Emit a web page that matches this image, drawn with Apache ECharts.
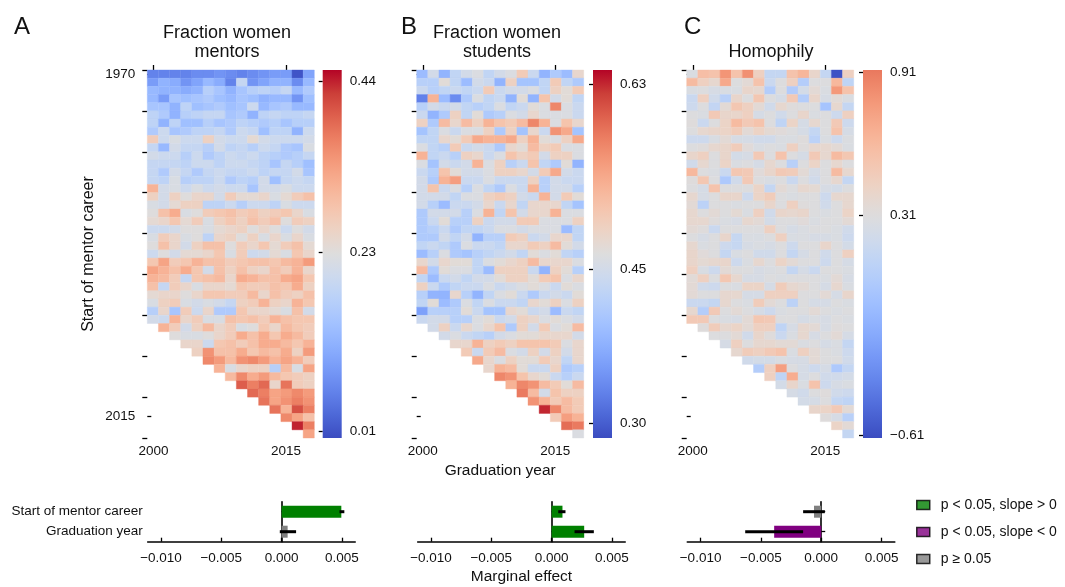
<!DOCTYPE html>
<html><head><meta charset="utf-8">
<script src="https://cdn.jsdelivr.net/npm/echarts@6/dist/echarts.min.js"></script>
<style>html,body{margin:0;padding:0;background:#fff}#c{width:1065px;height:587px}</style>
</head><body><div id="c"></div>
<script>
const n = null;
// Panel A: fraction women mentors (rows = start of mentor career, cols = graduation year)
const mentorRows = [
[0.06,0.06,0.06,0.06,0.07,0.07,0.08,0.07,0.06,0.07,0.08,0.09,0.09,0.01,0.10],
[0.09,0.12,0.11,0.08,0.10,0.13,0.11,0.06,0.19,0.08,0.10,0.12,0.12,0.07,0.13],
[0.13,0.12,0.12,0.11,0.12,0.17,0.15,0.12,0.15,0.17,0.18,0.17,0.19,0.13,0.16],
[0.13,0.09,0.15,0.14,0.15,0.16,0.14,0.13,0.15,0.14,0.12,0.13,0.13,0.08,0.14],
[0.15,0.15,0.12,0.18,0.14,0.15,0.16,0.14,0.15,0.20,0.13,0.15,0.16,0.13,0.13],
[0.18,0.16,0.12,0.17,0.18,0.19,0.19,0.15,0.16,0.12,0.18,0.19,0.18,0.18,0.19],
[0.18,0.12,0.18,0.14,0.14,0.17,0.15,0.16,0.18,0.17,0.16,0.17,0.15,0.17,0.17],
[0.16,0.20,0.15,0.16,0.18,0.18,0.19,0.16,0.20,0.19,0.14,0.18,0.18,0.12,0.20],
[0.27,0.20,0.22,0.20,0.20,0.26,0.21,0.20,0.20,0.24,0.21,0.20,0.20,0.20,0.21],
[0.19,0.13,0.21,0.19,0.19,0.17,0.21,0.18,0.19,0.17,0.20,0.19,0.16,0.15,0.22],
[0.21,0.20,0.20,0.17,0.20,0.16,0.18,0.20,0.19,0.20,0.18,0.17,0.16,0.17,0.19],
[0.19,0.19,0.19,0.18,0.20,0.20,0.18,0.20,0.20,0.19,0.18,0.15,0.19,0.17,0.14],
[0.19,0.16,0.21,0.19,0.16,0.19,0.20,0.19,0.19,0.20,0.18,0.19,0.19,0.21,0.15],
[0.19,0.18,0.22,0.17,0.18,0.18,0.20,0.16,0.18,0.17,0.21,0.14,0.19,0.20,0.19],
[0.31,0.21,0.22,0.20,0.22,0.20,0.21,0.20,0.20,0.15,0.21,0.21,0.22,0.20,0.20],
[0.26,0.21,0.26,0.23,0.25,0.25,0.21,0.27,0.24,0.24,0.25,0.22,0.24,0.27,0.29],
[0.22,0.21,0.24,0.26,0.26,0.18,0.18,0.20,0.17,0.20,0.20,0.18,0.22,0.20,0.20],
[0.23,0.29,0.32,0.22,0.23,0.27,0.28,0.29,0.27,0.28,0.26,0.27,0.28,0.25,0.22],
[0.24,0.25,0.28,0.24,0.27,0.22,0.26,0.28,0.26,0.29,0.27,0.29,0.23,0.27,0.26],
[0.20,0.20,0.21,0.23,0.23,0.22,0.24,0.25,0.26,0.23,0.25,0.23,0.20,0.23,0.21],
[0.22,0.27,0.25,0.22,0.23,0.18,0.25,0.26,0.23,0.26,0.22,0.25,0.22,0.25,0.22],
[0.23,0.29,0.25,0.21,0.26,0.29,0.29,0.23,0.27,0.25,0.28,0.24,0.27,0.29,0.24],
[0.20,0.23,0.21,0.24,0.24,0.25,0.28,0.22,0.27,0.20,0.21,0.24,0.22,0.28,0.25],
[0.28,0.33,0.27,0.28,0.31,0.29,0.29,0.27,0.28,0.29,0.29,0.28,0.30,0.31,0.34],
[0.33,0.31,0.29,0.32,0.28,0.21,0.29,0.26,0.29,0.26,0.25,0.29,0.27,0.31,0.25],
[0.31,0.30,0.27,0.19,0.28,0.29,0.30,0.25,0.32,0.31,0.29,0.29,0.32,0.33,0.28],
[0.29,0.19,0.27,0.25,0.22,0.25,0.25,0.24,0.28,0.27,0.27,0.29,0.28,0.32,0.26],
[0.24,0.25,0.25,0.23,0.25,0.28,0.28,0.27,0.27,0.30,0.25,0.29,0.27,0.26,0.29],
[0.22,0.26,0.27,0.22,0.21,0.22,0.21,0.19,0.26,0.27,0.31,0.26,0.25,0.31,0.28],
[0.17,0.25,0.15,0.27,0.20,0.25,0.16,0.16,0.28,0.25,0.25,0.24,0.22,0.29,0.21],
[0.21,0.20,0.31,0.25,0.27,0.22,0.22,0.29,0.28,0.29,0.27,0.31,0.29,0.28,0.28],
[n,0.31,0.27,0.21,0.26,0.30,0.25,0.27,0.22,0.23,0.28,0.25,0.30,0.28,0.27],
[n,n,0.23,0.22,0.22,0.23,0.25,0.27,0.32,0.29,0.32,0.28,0.32,0.30,0.27],
[n,n,n,0.25,0.25,0.20,0.28,0.29,0.27,0.29,0.32,0.32,0.30,0.28,0.31],
[n,n,n,n,0.26,0.35,0.29,0.29,0.32,0.28,0.30,0.29,0.32,0.26,0.34],
[n,n,n,n,n,0.36,0.34,0.30,0.35,0.36,0.34,0.31,0.33,0.31,0.27],
[n,n,n,n,n,n,0.31,0.22,0.25,0.26,0.26,0.17,0.30,0.22,0.33],
[n,n,n,n,n,n,n,0.30,0.36,0.32,0.34,0.30,0.28,0.27,0.26],
[n,n,n,n,n,n,n,n,0.40,0.37,0.39,0.25,0.38,0.27,0.26],
[n,n,n,n,n,n,n,n,n,0.39,0.37,0.33,0.34,0.36,0.34],
[n,n,n,n,n,n,n,n,n,n,0.38,0.33,0.35,0.37,0.35],
[n,n,n,n,n,n,n,n,n,n,n,0.38,0.31,0.41,0.37],
[n,n,n,n,n,n,n,n,n,n,n,n,0.36,0.33,0.29],
[n,n,n,n,n,n,n,n,n,n,n,n,n,0.44,0.37],
[n,n,n,n,n,n,n,n,n,n,n,n,n,n,0.33]
];
// Panel B: fraction women students
const studentRows = [
[0.39,0.45,0.38,0.43,0.45,0.46,0.43,0.45,0.46,0.50,0.44,0.38,0.41,0.39,0.48],
[0.42,0.42,0.47,0.43,0.39,0.45,0.44,0.38,0.49,0.40,0.40,0.43,0.50,0.43,0.41],
[0.44,0.42,0.43,0.44,0.43,0.44,0.50,0.44,0.45,0.45,0.46,0.43,0.49,0.47,0.50],
[0.33,0.53,0.39,0.34,0.41,0.46,0.43,0.44,0.38,0.47,0.38,0.51,0.45,0.47,0.43],
[0.42,0.45,0.44,0.45,0.43,0.42,0.43,0.46,0.43,0.44,0.47,0.46,0.57,0.46,0.44],
[0.44,0.38,0.41,0.49,0.43,0.47,0.41,0.42,0.46,0.45,0.48,0.46,0.46,0.46,0.44],
[0.49,0.41,0.52,0.48,0.52,0.49,0.53,0.51,0.50,0.52,0.57,0.53,0.46,0.51,0.48],
[0.40,0.43,0.46,0.44,0.46,0.46,0.49,0.41,0.49,0.40,0.48,0.44,0.56,0.54,0.40],
[0.43,0.43,0.48,0.47,0.50,0.54,0.53,0.53,0.54,0.49,0.53,0.47,0.46,0.49,0.54],
[0.46,0.43,0.42,0.50,0.44,0.45,0.44,0.41,0.48,0.47,0.52,0.49,0.50,0.46,0.46],
[0.53,0.43,0.44,0.42,0.49,0.48,0.44,0.46,0.51,0.49,0.50,0.45,0.49,0.49,0.46],
[0.46,0.40,0.45,0.44,0.45,0.53,0.46,0.49,0.42,0.44,0.51,0.43,0.41,0.47,0.38],
[0.44,0.42,0.51,0.47,0.45,0.45,0.46,0.49,0.49,0.48,0.45,0.50,0.54,0.45,0.44],
[0.45,0.41,0.53,0.55,0.44,0.44,0.46,0.44,0.44,0.44,0.49,0.42,0.45,0.44,0.44],
[0.45,0.51,0.44,0.46,0.42,0.46,0.43,0.41,0.46,0.44,0.53,0.42,0.45,0.45,0.42],
[0.45,0.45,0.45,0.43,0.46,0.46,0.49,0.50,0.49,0.45,0.44,0.53,0.45,0.50,0.47],
[0.45,0.42,0.39,0.44,0.44,0.45,0.48,0.44,0.48,0.43,0.48,0.48,0.48,0.43,0.40],
[0.41,0.45,0.45,0.45,0.42,0.46,0.53,0.43,0.51,0.45,0.48,0.48,0.53,0.46,0.46],
[0.41,0.44,0.47,0.42,0.42,0.49,0.44,0.45,0.45,0.50,0.50,0.46,0.46,0.46,0.49],
[0.41,0.42,0.44,0.41,0.43,0.43,0.44,0.46,0.46,0.45,0.46,0.46,0.46,0.39,0.43],
[0.41,0.41,0.45,0.43,0.45,0.38,0.42,0.42,0.50,0.49,0.44,0.45,0.48,0.48,0.43],
[0.43,0.44,0.43,0.41,0.46,0.44,0.44,0.43,0.48,0.48,0.50,0.49,0.52,0.47,0.45],
[0.39,0.42,0.46,0.41,0.40,0.42,0.43,0.44,0.45,0.43,0.47,0.46,0.47,0.43,0.42],
[0.48,0.45,0.48,0.47,0.47,0.43,0.46,0.47,0.48,0.49,0.52,0.48,0.48,0.48,0.46],
[0.52,0.41,0.47,0.46,0.46,0.43,0.39,0.49,0.49,0.49,0.44,0.38,0.49,0.47,0.42],
[0.43,0.39,0.44,0.45,0.43,0.45,0.45,0.47,0.49,0.49,0.47,0.50,0.51,0.46,0.48],
[0.49,0.44,0.41,0.43,0.44,0.44,0.46,0.44,0.45,0.46,0.47,0.46,0.44,0.47,0.46],
[0.42,0.38,0.38,0.48,0.42,0.38,0.43,0.46,0.47,0.44,0.41,0.44,0.45,0.44,0.47],
[0.43,0.47,0.39,0.41,0.46,0.43,0.46,0.44,0.44,0.43,0.48,0.47,0.49,0.46,0.49],
[0.36,0.42,0.42,0.42,0.47,0.44,0.40,0.40,0.48,0.47,0.44,0.45,0.39,0.44,0.43],
[0.44,0.45,0.45,0.42,0.42,0.46,0.47,0.44,0.45,0.49,0.48,0.46,0.47,0.46,0.45],
[n,0.45,0.49,0.44,0.48,0.46,0.48,0.51,0.41,0.49,0.45,0.50,0.46,0.47,0.52],
[n,n,0.45,0.46,0.44,0.43,0.42,0.45,0.46,0.47,0.47,0.48,0.48,0.48,0.45],
[n,n,n,0.48,0.48,0.53,0.49,0.50,0.49,0.51,0.51,0.51,0.50,0.46,0.48],
[n,n,n,n,0.50,0.44,0.50,0.52,0.46,0.45,0.49,0.45,0.49,0.45,0.48],
[n,n,n,n,n,0.54,0.48,0.46,0.49,0.47,0.47,0.50,0.48,0.43,0.48],
[n,n,n,n,n,n,0.48,0.53,0.52,0.47,0.44,0.44,0.49,0.41,0.42],
[n,n,n,n,n,n,n,0.57,0.56,0.51,0.48,0.47,0.44,0.42,0.44],
[n,n,n,n,n,n,n,n,0.53,0.57,0.56,0.52,0.50,0.47,0.52],
[n,n,n,n,n,n,n,n,n,0.58,0.52,0.45,0.51,0.49,0.49],
[n,n,n,n,n,n,n,n,n,n,0.56,0.53,0.50,0.52,0.50],
[n,n,n,n,n,n,n,n,n,n,n,0.63,0.57,0.52,0.50],
[n,n,n,n,n,n,n,n,n,n,n,n,0.50,0.55,0.53],
[n,n,n,n,n,n,n,n,n,n,n,n,n,0.59,0.58],
[n,n,n,n,n,n,n,n,n,n,n,n,n,n,0.46]
];
// Panel C: homophily
const homophilyRows = [
[0.28,0.58,0.55,0.80,0.55,0.82,0.45,0.15,0.15,0.55,0.63,0.40,0.15,-0.60,0.45],
[0.60,0.45,0.38,0.70,0.30,0.35,0.55,0.18,0.30,0.45,0.05,0.30,0.30,0.62,0.12],
[0.28,0.30,0.26,0.27,0.28,0.40,0.38,0.05,0.30,0.04,0.24,0.35,0.28,0.78,0.55],
[0.18,0.45,0.22,0.08,0.40,0.30,0.52,0.30,0.25,0.50,0.05,0.40,0.26,0.34,0.28],
[0.20,0.30,0.14,0.35,0.52,0.45,0.35,0.22,0.38,0.32,0.30,0.30,-0.02,0.38,0.15],
[0.30,0.28,0.50,0.40,0.40,0.45,0.25,0.30,0.22,0.30,0.40,0.28,0.30,0.20,0.45],
[0.32,0.18,0.30,0.42,0.60,0.50,0.55,0.30,0.12,0.42,0.25,0.38,0.30,0.50,0.20],
[0.30,0.38,0.40,0.42,0.48,0.35,0.43,0.36,0.33,0.30,0.25,0.15,0.30,0.55,0.25],
[0.20,0.20,0.27,0.35,0.26,0.25,0.22,0.22,0.28,0.28,0.32,0.10,0.28,0.20,0.29],
[0.30,0.32,0.38,0.40,0.48,0.33,0.27,0.30,0.28,0.45,0.32,0.38,0.38,0.35,0.28],
[0.40,0.45,0.30,0.40,0.24,0.26,0.50,0.30,0.55,0.30,0.25,0.50,0.38,0.60,0.52],
[0.22,0.38,0.30,0.42,0.28,0.30,0.25,0.38,0.30,0.08,0.30,0.42,0.30,0.38,0.30],
[0.62,0.30,0.28,0.18,0.52,0.50,0.33,0.40,0.50,0.48,0.35,0.25,0.30,0.60,0.38],
[0.32,0.52,0.30,0.02,0.22,0.50,0.30,0.27,0.30,0.18,0.30,0.22,0.30,0.38,0.15],
[0.30,0.25,0.55,0.30,0.30,0.30,0.42,0.15,0.35,0.30,0.38,0.36,0.26,0.24,0.30],
[0.38,0.26,0.30,0.40,0.40,0.20,0.42,0.48,0.30,0.28,0.30,0.30,0.20,0.38,0.38],
[0.35,0.10,0.30,0.30,0.28,0.30,0.30,0.40,0.30,0.45,0.32,0.30,0.22,0.30,0.38],
[0.38,0.30,0.35,0.30,0.36,0.28,0.45,0.22,0.40,0.38,0.40,0.30,0.28,0.30,0.42],
[0.38,0.38,0.32,0.28,0.26,0.38,0.35,0.24,0.30,0.30,0.33,0.28,0.30,0.30,0.35],
[0.35,0.32,0.18,0.30,0.30,0.30,0.30,0.45,0.30,0.25,0.28,0.30,0.30,0.28,0.22],
[0.30,0.26,0.30,0.40,0.16,0.28,0.27,0.30,0.45,0.27,0.28,0.26,0.26,0.28,0.20],
[0.38,0.28,0.30,0.20,0.16,0.26,0.28,0.26,0.30,0.20,0.30,0.30,0.40,0.30,0.24],
[0.40,0.33,0.30,0.15,0.27,0.30,0.22,0.22,0.30,0.15,0.25,0.30,0.22,0.30,0.45],
[0.40,0.36,0.38,0.40,0.20,0.28,0.38,0.30,0.42,0.35,0.30,0.30,0.20,0.30,0.25],
[0.45,0.27,0.20,0.35,0.30,0.30,0.26,0.28,0.30,0.15,0.25,0.18,0.30,0.30,0.28],
[0.34,0.45,0.30,0.52,0.38,0.26,0.26,0.30,0.28,0.30,0.30,0.30,0.28,0.35,0.26],
[0.35,0.22,0.20,0.30,0.28,0.42,0.42,0.25,0.48,0.38,0.35,0.30,0.25,0.38,0.28],
[0.35,0.30,0.30,0.38,0.38,0.25,0.25,0.45,0.45,0.45,0.30,0.30,0.35,0.25,0.40],
[0.18,0.18,0.15,0.38,0.30,0.28,0.48,0.35,0.30,0.10,0.30,0.25,0.25,0.30,0.28],
[0.38,0.05,0.50,0.30,0.35,0.30,0.25,0.20,0.28,0.30,0.30,0.35,0.30,0.28,0.30],
[0.50,0.50,0.30,0.28,0.26,0.35,0.52,0.50,0.30,0.30,0.25,0.28,0.26,0.30,0.28],
[n,0.32,0.48,0.38,0.42,0.35,0.45,0.45,0.12,0.26,0.38,0.35,0.26,0.32,0.30],
[n,n,0.30,0.30,0.35,0.22,0.40,0.32,0.18,0.28,0.38,0.26,0.30,0.35,0.25],
[n,n,n,0.25,0.45,0.30,0.38,0.38,0.35,0.35,0.28,0.30,0.25,0.28,0.15],
[n,n,n,n,0.38,0.48,0.45,0.50,0.55,0.28,0.45,0.35,0.30,0.28,0.20],
[n,n,n,n,n,0.22,0.24,0.24,0.28,0.26,0.26,0.35,0.30,0.30,0.22],
[n,n,n,n,n,n,0.05,0.45,0.75,0.30,0.25,0.20,0.25,0.02,0.15],
[n,n,n,n,n,n,n,0.45,0.12,0.68,0.25,0.30,0.22,0.22,0.24],
[n,n,n,n,n,n,n,n,0.24,0.40,0.28,0.55,0.20,0.26,0.28],
[n,n,n,n,n,n,n,n,n,0.25,0.22,0.30,0.32,0.22,0.20],
[n,n,n,n,n,n,n,n,n,n,0.24,0.25,0.30,0.15,0.12],
[n,n,n,n,n,n,n,n,n,n,n,0.40,0.42,0.50,0.35],
[n,n,n,n,n,n,n,n,n,n,n,n,0.32,0.26,0.08],
[n,n,n,n,n,n,n,n,n,n,n,n,n,0.42,0.35],
[n,n,n,n,n,n,n,n,n,n,n,n,n,n,0.15]
];
const xTickLabels = ['2000', '2015'];
const yTickLabels = ['1970', '2015'];
const colorbarTicksMentors = [0.01, 0.23, 0.44];
const colorbarTicksStudents = [0.30, 0.45, 0.63];
const colorbarTicksHomophily = [-0.61, 0.31, 0.91];
const barCategories = ['Start of mentor career', 'Graduation year'];
const effectMentors = [0.00495, 0.0005];
const ciMentors = [[0.0048, 0.0052], [-0.00015, 0.0012]];
const sigMentors = ['pos', 'ns'];
const effectStudents = [0.0009, 0.0027];
const ciStudents = [[0.00055, 0.00115], [0.0019, 0.0035]];
const sigStudents = ['pos', 'pos'];
const effectHomophily = [-0.0006, -0.0039];
const ciHomophily = [[-0.0015, 0.0003], [-0.0063, -0.0015]];
const sigHomophily = ['ns', 'neg'];
const barTicks = [-0.010, -0.005, 0.000, 0.005];
const legendLabels = ['p < 0.05, slope > 0', 'p < 0.05, slope < 0', 'p \u2265 0.05'];

// ---------- styling / layout ----------
const sigColor = {pos: '#008000', neg: '#800080', ns: '#808080'};
const legendColors = ['#008000', '#800080', '#808080'];
const CW = [[59,76,192],[77,104,215],[98,130,234],[119,154,247],[141,176,254],[163,194,255],[184,208,249],[204,217,238],[221,221,221],[236,211,197],[245,196,173],[247,177,148],[244,154,123],[236,127,99],[222,96,77],[203,62,56],[180,4,38]];
function coolwarm(f) {
  f = Math.max(0, Math.min(1, f));
  const p = f * 16, i = Math.min(15, Math.floor(p)), t = p - i;
  const a = CW[i], b = CW[i + 1];
  return 'rgb(' + [0,1,2].map(k => Math.round(a[k] + (b[k] - a[k]) * t)).join(',') + ')';
}
function ramp(f0, f1, m) { const out = []; for (let k = 0; k < m; k++) out.push(coolwarm(f0 + (f1 - f0) * k / (m - 1))); return out; }
const minus = s => s.replace('-', '\u2212');
const TXT = '#111';
const FONT = 'Liberation Sans, Arial, sans-serif';

const panels = [
  {rows: mentorRows, vmin: 0.0023, vmax: 0.4544, f0: 0, f1: 1, cbTicks: colorbarTicksMentors,
   effect: effectMentors, ci: ciMentors, sig: sigMentors, heatLeft: 147.3, cbLeft: 322.7, barLeft: 147.7},
  {rows: studentRows, vmin: 0.2857, vmax: 0.6436, f0: 0, f1: 1, cbTicks: colorbarTicksStudents,
   effect: effectStudents, ci: ciStudents, sig: sigStudents, heatLeft: 416.7, cbLeft: 593, barLeft: 417.7},
  {rows: homophilyRows, vmin: -0.623, vmax: 0.921, f0: 0, f1: 0.827, cbTicks: colorbarTicksHomophily,
   effect: effectHomophily, ci: ciHomophily, sig: sigHomophily, heatLeft: 686.7, cbLeft: 863, barLeft: 687.3}
];
const NCOL = 15, NROW = 45;
const xTickPos = [0.55, 12.45];
const yTickPos = [0.55, 42.3];
const yMajor = [0,5,10,15,20,25,30,35,40,45];

const grid = [], xAxis = [], yAxis = [], series = [], visualMap = [];
const tickLine = {color: '#000', width: 1.3};

// heatmaps
panels.forEach((P, i) => {
  const g = grid.length;
  grid.push({left: P.heatLeft, top: 70, width: 167, height: 368});
  const xi = xAxis.length;
  xAxis.push({type: 'value', gridIndex: g, min: 0, max: NCOL, position: 'bottom',
    axisLine: {show: false}, splitLine: {show: false},
    axisTick: {show: true, inside: true, length: 5, lineStyle: tickLine, customValues: xTickPos},
    axisLabel: {show: true, customValues: xTickPos, margin: 6, color: TXT, fontSize: 13.5, fontFamily: FONT,
      formatter: v => xTickLabels[xTickPos.indexOf(v)]},
    name: i === 1 ? 'Graduation year' : '', nameLocation: 'middle', nameGap: 20,
    nameTextStyle: {fontSize: 15.5, color: TXT, fontFamily: FONT}});
  const yi = yAxis.length;
  yAxis.push({type: 'value', gridIndex: g, min: 0, max: NROW, inverse: true, position: 'left',
    axisLine: {show: false}, splitLine: {show: false},
    axisTick: {show: true, inside: false, length: 5, lineStyle: tickLine, customValues: yMajor},
    axisLabel: {show: false},
    name: i === 0 ? 'Start of mentor career' : '', nameLocation: 'middle', nameGap: 51, nameRotate: 90,
    nameTextStyle: {fontSize: 16, color: TXT, fontFamily: FONT}});
  yAxis.push({type: 'value', gridIndex: g, min: 0, max: NROW, inverse: true, position: 'left',
    axisLine: {show: false}, splitLine: {show: false},
    axisTick: {show: true, inside: true, length: 4, lineStyle: tickLine, customValues: yTickPos},
    axisLabel: {show: i === 0, customValues: yTickPos, margin: 12, color: TXT, fontSize: 13.5, fontFamily: FONT,
      formatter: v => yTickLabels[yTickPos.indexOf(v)]}});
  const data = [];
  P.rows.forEach((row, r) => row.forEach((v, c) => { if (v !== null) data.push([c, r, v]); }));
  visualMap.push({type: 'continuous', show: false, seriesIndex: series.length, dimension: 2,
    min: P.vmin, max: P.vmax, inRange: {color: ramp(P.f0, P.f1, 33)}});
  series.push({type: 'custom', xAxisIndex: xi, yAxisIndex: yi, data: data, encode: {x: 0, y: 1},
    renderItem: (params, api) => {
      const c = api.value(0), r = api.value(1);
      const p0 = api.coord([c, r]), p1 = api.coord([c + 1, r + 1]);
      const col = api.visual('color');
      return {type: 'rect', shape: {x: Math.min(p0[0], p1[0]), y: Math.min(p0[1], p1[1]),
        width: Math.abs(p1[0] - p0[0]), height: Math.abs(p1[1] - p0[1])},
        style: {fill: col, stroke: col, lineWidth: 0.4}};
    }});
});

// colorbars
panels.forEach((P, i) => {
  const g = grid.length;
  grid.push({left: P.cbLeft, top: 70, width: 19, height: 368});
  const xi = xAxis.length;
  xAxis.push({type: 'value', gridIndex: g, min: 0, max: 1, show: false});
  const yi = yAxis.length;
  yAxis.push({type: 'value', gridIndex: g, min: P.vmin, max: P.vmax, position: 'right',
    axisLine: {show: false}, splitLine: {show: false},
    axisTick: {show: true, inside: true, length: 4, lineStyle: tickLine, customValues: P.cbTicks},
    axisLabel: {show: true, customValues: P.cbTicks, margin: 8, color: TXT, fontSize: 13.5, fontFamily: FONT,
      formatter: v => minus(v.toFixed(2))}});
  const stops = [];
  const m = 33;
  for (let k = 0; k < m; k++) {
    const t = k / (m - 1);
    stops.push({offset: t, color: coolwarm(P.f1 - (P.f1 - P.f0) * t)});
  }
  series.push({type: 'custom', xAxisIndex: xi, yAxisIndex: yi, silent: true,
    data: [[0.5, (P.vmin + P.vmax) / 2]], encode: {x: 0, y: 1},
    renderItem: (params, api) => {
      const p0 = api.coord([0, P.vmax]), p1 = api.coord([1, P.vmin]);
      return {type: 'rect', shape: {x: p0[0], y: p0[1], width: p1[0] - p0[0], height: p1[1] - p0[1]},
        style: {fill: {type: 'linear', x: 0, y: 0, x2: 0, y2: 1, colorStops: stops}}};
    }});
});

// marginal-effect bars
let lastBarX = 0, lastBarY = 0;
panels.forEach((P, i) => {
  const g = grid.length;
  grid.push({left: P.barLeft, top: 501.7, width: 207.5, height: 40});
  const xi = xAxis.length;
  xAxis.push({type: 'value', gridIndex: g, min: -0.0111, max: 0.0061,
    axisLine: {show: true, lineStyle: {color: '#000', width: 1.6}}, splitLine: {show: false},
    axisTick: {show: true, inside: true, length: 4, lineStyle: tickLine, customValues: barTicks},
    axisLabel: {show: true, customValues: barTicks, margin: 10, color: TXT, fontSize: 13.5, fontFamily: FONT,
      formatter: v => minus(v.toFixed(3))},
    name: i === 1 ? 'Marginal effect' : '', nameLocation: 'middle', nameGap: 27,
    nameTextStyle: {fontSize: 15.5, color: TXT, fontFamily: FONT}});
  const yi = yAxis.length;
  yAxis.push({type: 'category', gridIndex: g, data: barCategories, inverse: true,
    axisLine: {show: true, lineStyle: {color: '#000', width: 1.6}},
    axisTick: {show: true, inside: true, length: 4, alignWithLabel: true, lineStyle: tickLine},
    axisLabel: {show: i === 0, margin: 5, color: TXT, fontSize: 13.5, fontFamily: FONT}});
  series.push({type: 'bar', xAxisIndex: xi, yAxisIndex: yi, barWidth: 12, silent: true,
    data: P.effect.map((v, k) => ({value: v, itemStyle: {color: sigColor[P.sig[k]]}}))});
  series.push({type: 'custom', xAxisIndex: xi, yAxisIndex: yi, silent: true, z: 5,
    data: P.ci.map((c, k) => [c[0], c[1], k]), encode: {x: [0, 1], y: 2},
    renderItem: (params, api) => {
      const a = api.coord([api.value(0), api.value(2)]), b = api.coord([api.value(1), api.value(2)]);
      return {type: 'line', shape: {x1: a[0], y1: a[1], x2: b[0], y2: b[1]},
        style: {stroke: '#000', lineWidth: 3}};
    }});
  lastBarX = xi; lastBarY = yi;
});
legendLabels.forEach((name, k) => {
  series.push({type: 'scatter', name: name, xAxisIndex: lastBarX, yAxisIndex: lastBarY, data: [],
    itemStyle: {color: legendColors[k], borderColor: '#000', borderWidth: 1.5}});
});

const titleStyle = {fontSize: 18, fontWeight: 'normal', color: TXT, fontFamily: FONT, lineHeight: 19};
const letterStyle = {fontSize: 24, fontWeight: 'normal', color: TXT, fontFamily: FONT};
const option = {
  animation: false,
  backgroundColor: '#fff',
  textStyle: {fontFamily: FONT},
  title: [
    {text: 'A', left: 9, top: 10, textStyle: letterStyle},
    {text: 'B', left: 396, top: 10, textStyle: letterStyle},
    {text: 'C', left: 679, top: 10, textStyle: letterStyle},
    {text: 'Fraction women\nmentors', left: 222, top: 19, textAlign: 'center', textStyle: titleStyle},
    {text: 'Fraction women\nstudents', left: 492, top: 19, textAlign: 'center', textStyle: titleStyle},
    {text: 'Homophily', left: 766, top: 38, textAlign: 'center', textStyle: titleStyle}
  ],
  legend: {data: legendLabels, orient: 'vertical', left: 911, top: 493, icon: 'rect',
    itemWidth: 13, itemHeight: 9, itemGap: 13, selectedMode: false,
    itemStyle: {borderColor: '#000', borderWidth: 1.5},
    textStyle: {fontSize: 14, color: TXT, fontFamily: FONT, padding: [0, 0, 0, 6]}},
  grid: grid, xAxis: xAxis, yAxis: yAxis, visualMap: visualMap, series: series
};
const chart = echarts.init(document.getElementById('c'), null, {renderer: 'canvas'});
chart.setOption(option);
</script>
</body></html>
